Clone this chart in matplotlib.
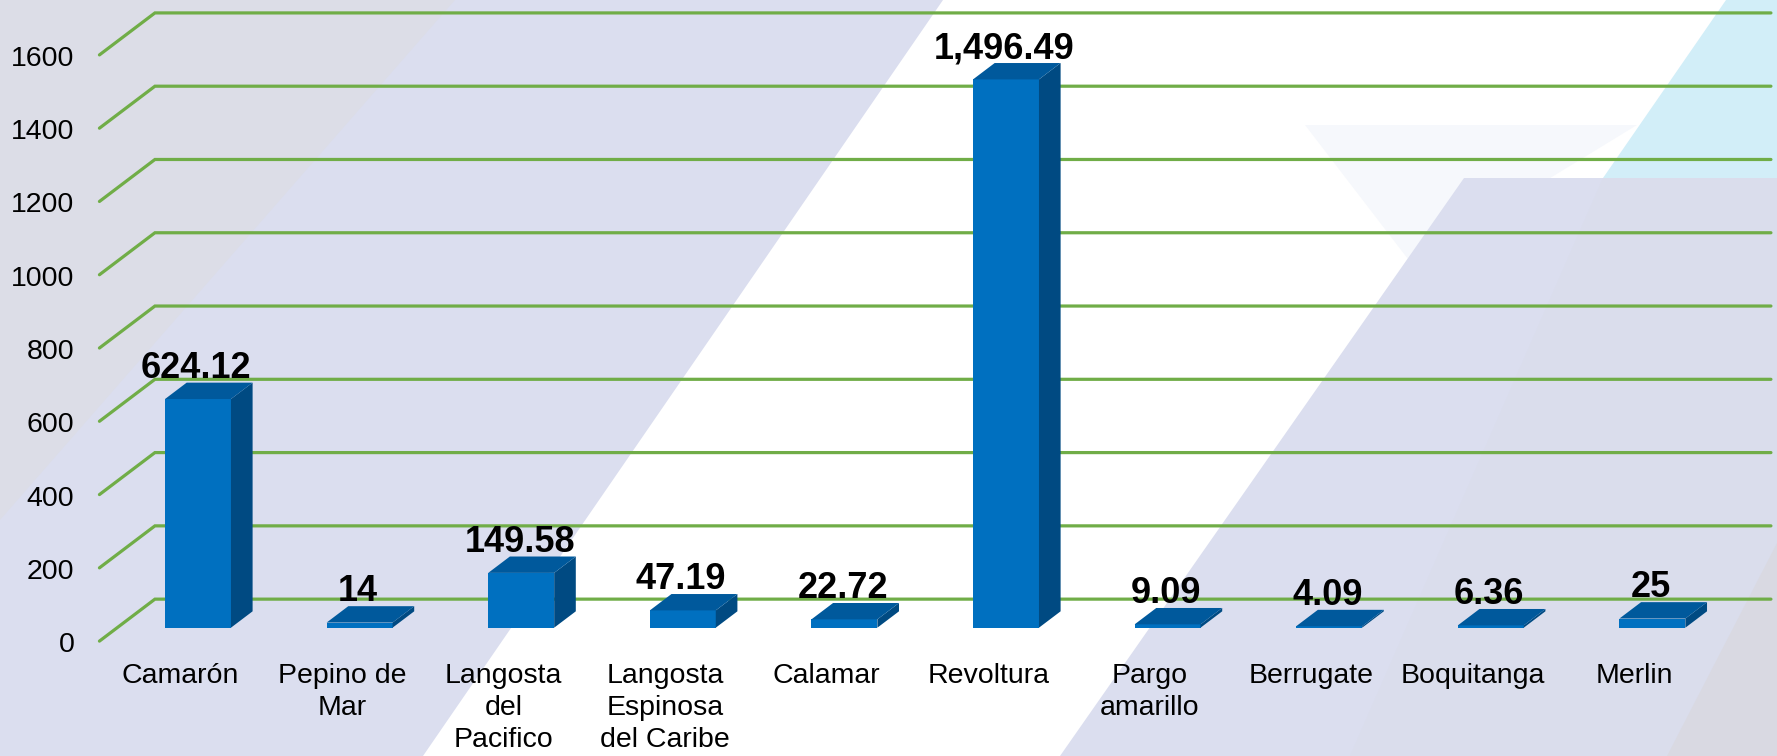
import numpy as np
import matplotlib.pyplot as plt
from matplotlib.patches import Polygon

plt.rcParams['font.family'] = ['Liberation Sans', 'DejaVu Sans']

# datos
categories = ['Camarón', 'Pepino de\nMar', 'Langosta\ndel\nPacifico',
              'Langosta\nEspinosa\ndel Caribe', 'Calamar', 'Revoltura',
              'Pargo\namarillo', 'Berrugate', 'Boquitanga', 'Merlin']
values = [624.12, 14, 149.58, 47.19, 22.72, 1496.49, 9.09, 4.09, 6.36, 25]
yticks = np.arange(0, 1601, 200)

# perspectiva (profundidad en unidades de datos)
DX, DY = 0.3434, 114.6   # desplazamiento frente -> fondo
D_BAR = 0.32             # plano frontal de las barras
BD = 0.39                # profundidad de la barra
W = 0.408                # ancho de la barra


def proj(x, y, d):
    return x + (d - D_BAR) * DX, y + (d - D_BAR) * DY


def fmt(v):
    return f'{v:,.2f}'.rstrip('0').rstrip('.')


fig = plt.figure(figsize=(17.77, 7.56), dpi=100)

# fondo decorativo (pixeles)
bg = fig.add_axes([0, 0, 1, 1], zorder=-1)
bg.set_xlim(0, 1777), bg.set_ylim(756, 0), bg.axis('off')
shapes = [
    ([(0, 0), (1777, 0), (1777, 756), (0, 756)], '#DBDEEF'),
    ([(0, 0), (455, 0), (0, 520)], '#DCDDE7'),
    ([(943, 0), (1777, 0), (1777, 756), (423, 756)], '#FFFFFF'),
    ([(1305, 125), (1637, 125), (1411, 263)], '#F6F8FC'),
    ([(1726, 0), (1777, 0), (1777, 178), (1603, 178)], '#D2EEF8'),
    ([(1464, 178), (1777, 178), (1777, 756), (1060, 756)], '#DBDEEF'),
    ([(1603, 178), (1777, 178), (1777, 756), (1350, 756)], '#DADDEC'),
    ([(1777, 543), (1777, 756), (1667, 756)], '#D9D9E2'),
]
for pts, c in shapes:
    bg.add_patch(Polygon(pts, closed=True, facecolor=c, edgecolor='none'))

ax = fig.add_axes([0, 0, 1, 1])
ax.set_xlim(-1.2252, 9.771)
ax.set_ylim(-350.2, 1713.2)
ax.axis('off')

# lineas de cuadricula (pared del fondo)
for v in yticks:
    x0, y0 = proj(-0.5, v, 0)
    x1, y1 = proj(-0.5, v, 1)
    x2, y2 = proj(9.5, v, 1)
    ax.plot([x0, x1, x2], [y0, y1, y2], color='#70AD47', lw=2.3,
            solid_capstyle='round', solid_joinstyle='miter', zorder=1)
    ax.text(x0 - 0.155, y0 - 30, f'{v}', ha='right', va='baseline',
            fontsize=20.5, color='black')

# barras
idx = np.arange(len(categories))
ax.bar(idx, values, width=W, color='#0070C0', zorder=3)
bdx, bdy = BD * DX, BD * DY
for i, v in zip(idx, values):
    xl, xr = i - W / 2, i + W / 2
    ax.fill([xr, xr + bdx, xr + bdx, xr], [0, bdy, v + bdy, v],
            color='#004A82', lw=0, zorder=3)
    ax.fill([xl, xr, xr + bdx, xl + bdx], [v, v, v + bdy, v + bdy],
            color='#00599C', lw=0, zorder=3)
    ax.text(i - 0.01, v + bdy + 13, fmt(v), ha='center', va='baseline',
            fontsize=26, fontweight='bold', color='black', zorder=5)

# etiquetas de categoria
for i, lab in zip(idx, categories):
    x0, _ = proj(i, 0, 0)
    ax.text(x0, -96, lab, ha='center', va='top', fontsize=20.5,
            linespacing=1.3, color='black', zorder=5)

fig.savefig('out.png', dpi=100)
